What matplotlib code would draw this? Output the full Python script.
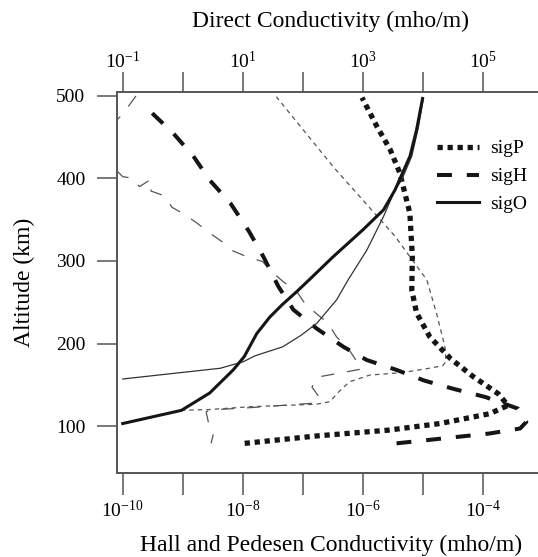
import matplotlib
matplotlib.use("Agg")
import matplotlib.pyplot as plt
from matplotlib.ticker import NullLocator

plt.rcParams['font.family'] = ['Liberation Serif', 'DejaVu Serif']
plt.rcParams['mathtext.fontset'] = 'custom'
plt.rcParams['mathtext.rm'] = 'Liberation Serif'
plt.rcParams['mathtext.it'] = 'Liberation Serif:italic'
plt.rcParams['mathtext.bf'] = 'Liberation Serif:bold'

# ---- Pedersen conductivity, model 1 (mho/m) ----
sigP_alt = [79, 88, 95, 103, 115, 125, 139, 160, 182, 208, 237, 265, 305, 358, 407, 435, 463, 498]
sigP_val = [1.07e-8, 1.7e-7, 2.63e-6, 1.9e-5, 1.29e-4, 2.57e-4, 1.78e-4, 6.76e-5, 2.82e-5,
            1.29e-5, 7.76e-6, 6.46e-6, 6.6e-6, 6.0e-6, 4.07e-6, 2.82e-6, 1.7e-6, 9.6e-7]

# ---- Hall conductivity, model 1 (mho/m) ----
sigH_alt = [79, 91, 97, 105, 121, 135, 145, 155, 168, 180, 196, 218, 241, 269, 305, 336,
            370, 398, 427, 455, 480, 487]
sigH_val = [3.6e-6, 1.29e-4, 4.1e-4, 5.2e-4, 3.8e-4, 1.1e-4, 3.2e-5, 1.05e-5, 3.6e-6, 1.15e-6,
            4.7e-7, 1.7e-7, 6.9e-8, 3.9e-8, 2.2e-8, 1.26e-8, 6.2e-9, 2.8e-9, 1.5e-9, 6.9e-10,
            3.0e-10, 2.5e-10]

# ---- Direct conductivity, model 1 (mho/m) ----
sigO_alt = [103, 119, 140, 168, 184, 212, 232, 247, 263, 277, 305, 338, 362, 386,
            399, 427, 459, 497]
sigO_val = [0.10, 0.95, 2.8, 6.9, 10.5, 17, 28, 45, 79, 126, 316, 1000, 2190, 3390,
            4070, 6030, 7760, 9770]

# ---- Direct conductivity, model 2 (mho/m) ----
sigO2_alt = [157, 170, 178, 185, 196, 210, 224.5, 253, 277, 313, 354, 386, 398, 427, 462, 496]
sigO2_val = [0.10, 4.2, 10.2, 15.8, 46, 93, 170, 363, 562, 1150, 2190, 3390, 4370, 6460, 8320,
             10000]

# ---- Pedersen conductivity, model 2 (mho/m) ----
sigP2_alt = [103, 119, 120, 123.5, 126.5, 129.5, 143.6, 153.7, 161.8, 164, 165, 168.7, 173,
             178, 196, 237, 277, 330, 414, 499]
sigP2_val = [1.0e-10, 9.5e-10, 2.8e-9, 1.4e-8, 1.7e-7, 2.8e-7, 4.2e-7, 6.0e-7, 1.3e-6, 3.4e-6,
             4.7e-6, 1.0e-5, 2.1e-5, 2.4e-5, 2.3e-5, 1.66e-5, 1.15e-5, 3.4e-6, 3.2e-7, 3.6e-8]

# ---- Hall conductivity, model 2 (mho/m) ----
sigH2_alt = [500, 478, 440, 402.2, 400.2, 390.1, 399, 384.8, 378.8, 365.1, 355.8, 345.7, 334.3,
             323.4, 312.1, 305.2, 299.2, 287, 274.9, 262.8, 248.7, 234.5, 224.8, 208.2, 194.5,
             169.1, 165.8, 159.4, 147.3, 133.9, 127.9, 122.4, 119.4, 117, 97.2, 89.1, 79]
sigH2_val = [1.66e-10, 1.0e-10, 3.0e-11, 1.0e-10, 1.5e-10, 1.9e-10, 2.95e-10, 2.95e-10, 5.0e-10,
             6.6e-10, 1.1e-9, 1.74e-9, 2.75e-9, 4.5e-9, 6.9e-9, 1.17e-8, 2.14e-8, 3.0e-8,
             4.7e-8, 7.9e-8, 1.07e-7, 1.78e-7, 2.6e-7, 3.6e-7, 5.6e-7, 9.5e-7, 5.4e-7, 1.78e-7,
             1.41e-7, 1.9e-7, 1.66e-7, 1.41e-8, 2.8e-9, 2.45e-9, 2.8e-9, 3.2e-9, 2.95e-9]

bottom_ticks = [1e-10, 1e-9, 1e-8, 1e-7, 1e-6, 1e-5, 1e-4, 1e-3]
bottom_labels = [r'$10^{-10}$', '', r'$10^{-8}$', '', r'$10^{-6}$', '', r'$10^{-4}$', '']
top_ticks = [1e-1, 1e0, 1e1, 1e2, 1e3, 1e4, 1e5, 1e6]
top_labels = [r'$10^{-1}$', '', r'$10^{1}$', '', r'$10^{3}$', '', r'$10^{5}$', '']
alt_ticks = [100, 200, 300, 400, 500]

DARK = '#151515'
THIN = '#333333'
GREY = '#555555'
SPINE = '#555555'

fig = plt.figure(figsize=(5.38, 5.57), dpi=100)
ax = fig.add_axes([116.7 / 538, 83.7 / 557, (545 - 116.7) / 538, (473.3 - 92) / 557])
ax.set_xscale('log')
ax.set_xlim(10 ** -10.1, 10 ** -2.973)
ax.set_ylim(42.7, 504.8)

# model 2 curves (thin)
ax.plot(sigP2_val, sigP2_alt, color=GREY, lw=0.9, dashes=(3.6, 3.2))
ax.plot(sigH2_val, sigH2_alt, color=GREY, lw=0.9, dashes=(10.4, 10.4))

# model 1 curves (thick)
lP, = ax.plot(sigP_val, sigP_alt, color=DARK, lw=3.8, dashes=(1.0, 0.9),
              dash_capstyle='butt', label='sigP')
lH, = ax.plot(sigH_val, sigH_alt, color=DARK, lw=2.9, dashes=(3.7, 3.7),
              dash_capstyle='butt', label='sigH')

ax.set_xticks(bottom_ticks)
ax.set_xticklabels(bottom_labels)
ax.xaxis.set_minor_locator(NullLocator())
ax.yaxis.set_minor_locator(NullLocator())
ax.set_yticks(alt_ticks)
ax.tick_params(axis='x', which='both', direction='out', length=16, width=1.1,
               color=SPINE, labelsize=14, pad=3)
ax.tick_params(axis='y', which='both', direction='out', length=14.5, width=1.1,
               color=SPINE, labelsize=14, pad=8)

ax.set_xlabel('Hall and Pedesen Conductivity (mho/m)', fontsize=17, labelpad=10)
ax.set_ylabel('Altitude (km)', fontsize=17, labelpad=15)

for side in ('left', 'bottom', 'top'):
    ax.spines[side].set_color(SPINE)
    ax.spines[side].set_linewidth(1.2)
ax.spines['right'].set_visible(False)

# direct conductivity on the top axis
axt = ax.twiny()
axt.set_xscale('log')
axt.set_xlim(10 ** -1.1, 10 ** 6.027)
axt.plot(sigO2_val, sigO2_alt, color=THIN, lw=0.9)
lO, = axt.plot(sigO_val, sigO_alt, color=DARK, lw=2.2, label='sigO')
axt.set_xticks(top_ticks)
axt.set_xticklabels(top_labels)
axt.xaxis.set_minor_locator(NullLocator())
axt.tick_params(axis='x', which='both', direction='out', length=14.5, width=1.1,
                color=SPINE, labelsize=14, pad=0)
axt.set_xlabel('Direct Conductivity (mho/m)', fontsize=17, labelpad=17)
for side in ('left', 'bottom', 'top'):
    axt.spines[side].set_color(SPINE)
    axt.spines[side].set_linewidth(1.2)
axt.spines['right'].set_visible(False)

axt.legend(handles=[lP, lH, lO], loc='upper left', bbox_to_anchor=(0.729, 0.895),
           frameon=False, fontsize=14, handlelength=2.15, handletextpad=0.58,
           labelspacing=0.53, borderaxespad=0)

fig.savefig('out.png', dpi=100)
